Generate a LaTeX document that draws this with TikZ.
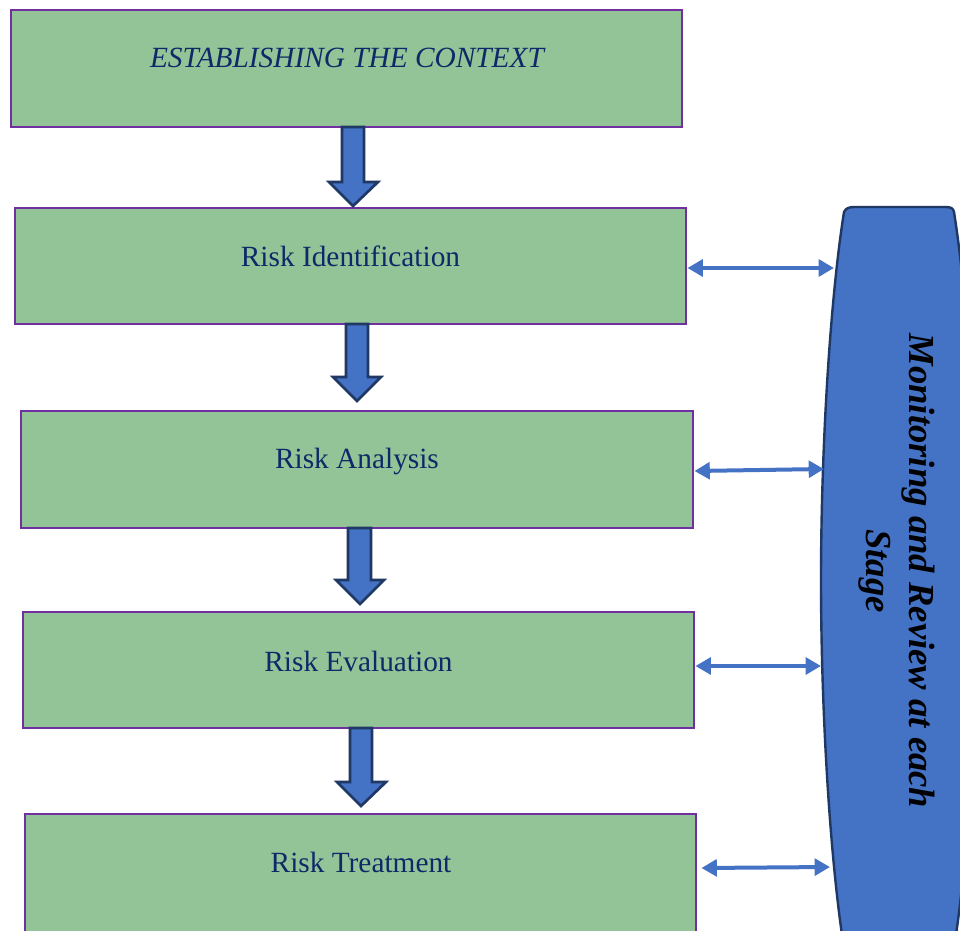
\documentclass[tikz,border=0pt]{standalone}
\usepackage{fontspec}
\setmainfont{Liberation Serif}
\usetikzlibrary{arrows.meta,fit,calc}
\definecolor{boxgreen}{RGB}{147,196,151}
\definecolor{boxpurple}{RGB}{112,48,160}
\definecolor{wordblue}{RGB}{68,114,196}
\definecolor{darkline}{RGB}{31,56,100}
\definecolor{navytext}{RGB}{14,40,104}
\tikzset{
  stagebox/.style={draw=boxpurple, fill=boxgreen, line width=2.2pt, inner sep=0pt, rectangle},
  stagelabel/.style={text=navytext, font=\fontsize{22}{26}\selectfont, inner sep=0pt},
  blockarrow/.style={draw=darkline, fill=wordblue, line width=2pt, line join=miter},
  linkarrow/.style={draw=wordblue, line width=3pt, {Triangle[length=11.5pt,width=12.5pt]}-{Triangle[length=11.5pt,width=12.5pt]}},
  monshape/.style={draw=darkline, fill=wordblue, line width=1.8pt},
  montext/.style={font=\fontsize{27.5}{32.5}\selectfont\bfseries\itshape, align=center, rotate=-90, inner sep=0pt}
}
\begin{document}
\begin{tikzpicture}[x=0.75pt,y=-0.75pt]
\useasboundingbox (0,0) rectangle (960,931);
\clip (0,0) rectangle (960,931);
\fill[white] (0,0) rectangle (960,931);

% stage boxes
\node[stagebox, fit={(11,10)(682,127)}] (b1) {};
\node[stagebox, fit={(15,208)(686,324)}] (b2) {};
\node[stagebox, fit={(21,411)(693,528)}] (b3) {};
\node[stagebox, fit={(23,612)(694,728)}] (b4) {};
\node[stagebox, fit={(25,814)(696,950)}] (b5) {};

\node[stagelabel, font=\fontsize{22}{26}\selectfont\itshape] (t1) at (347,58) {ESTABLISHING THE CONTEXT};
\node[stagelabel] (t2) at (350.5,256) {Risk Identification};
\node[stagelabel] (t3) at (357,461) {Risk Analysis};
\node[stagelabel] (t4) at (358.5,661) {Risk Evaluation};
\node[stagelabel] (t5) at (361,862) {Risk Treatment};

% block arrows between stages
\draw[blockarrow] (342,127) -- (364,127) -- (364,182) -- (378,182) -- (353,206) -- (329,182) -- (342,182) -- cycle;
\draw[blockarrow] (346,324) -- (368,324) -- (368,377) -- (381,377) -- (357,401) -- (333,377) -- (346,377) -- cycle;
\draw[blockarrow] (348,528) -- (371,528) -- (371,580) -- (384,580) -- (360,604) -- (336,580) -- (348,580) -- cycle;
\draw[blockarrow] (350,728) -- (372,728) -- (372,782) -- (386,782) -- (361,806) -- (337,782) -- (350,782) -- cycle;

% monitoring shape
\draw[monshape] (855,207) -- (945,207)
  .. controls (951,207) and (953,208) .. (954,212)
  .. controls (968,300) and (977,450) .. (977,580)
  .. controls (977,710) and (968,860) .. (954,948)
  .. controls (953,952) and (951,953) .. (945,953)
  -- (855,953)
  .. controls (849,953) and (846,952) .. (844,948)
  .. controls (830,860) and (821,710) .. (821,580)
  .. controls (821,450) and (830,300) .. (844,212)
  .. controls (846,208) and (849,207) .. (855,207) -- cycle;
\node[montext] (mon) at (897,571) {Monitoring and Review at each\\Stage};

\coordinate (m2) at (834,268);
\coordinate (m3) at (824,469);
\coordinate (m4) at (821,666);
\coordinate (m5) at (830,867);

\draw[linkarrow] (b2.east |- m2) -- (m2);
\draw[linkarrow] ($(b3.east |- m3)+(0,2)$) -- (m3);
\draw[linkarrow] (b4.east |- m4) -- (m4);
\draw[linkarrow] ($(b5.east |- m5)+(4,1)$) -- (m5);
\end{tikzpicture}
\end{document}
